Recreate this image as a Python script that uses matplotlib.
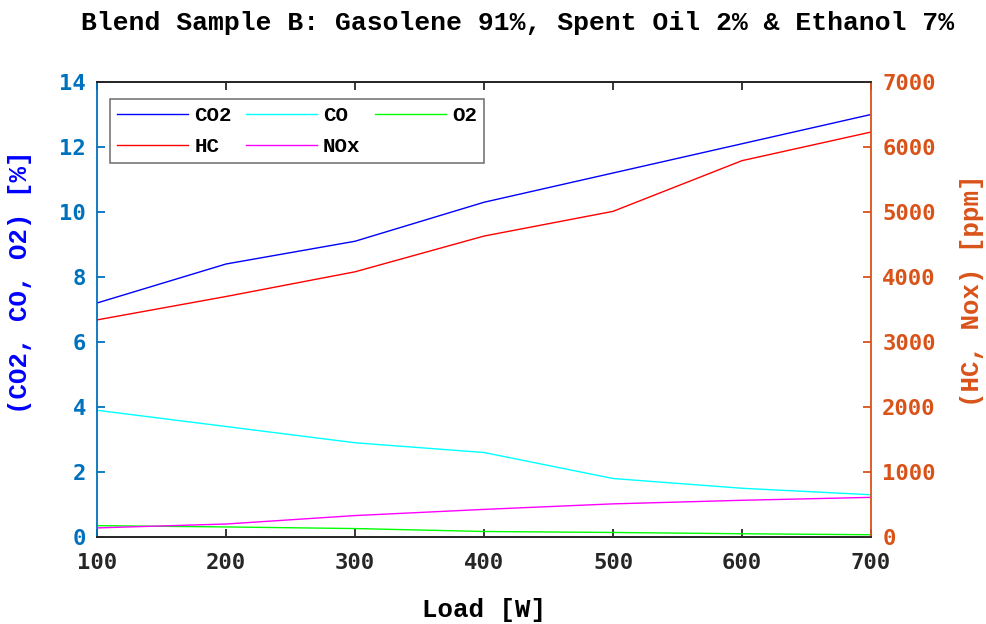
import matplotlib.pyplot as plt

# Emission readings against engine load
load = [100, 200, 300, 400, 500, 600, 700]
co2 = [7.2, 8.4, 9.1, 10.3, 11.2, 12.1, 13.0]
co = [3.9, 3.4, 2.9, 2.6, 1.8, 1.5, 1.3]
o2 = [0.35, 0.31, 0.26, 0.17, 0.14, 0.10, 0.07]
hc = [3340, 3700, 4080, 4630, 5010, 5790, 6230]
nox = [140, 200, 330, 425, 510, 565, 610]

left_col = '#0072BD'
right_col = '#D95319'
edge_col = '#262626'
label_font = 'Liberation Mono'
tick_font = 'DejaVu Sans Mono'

fig = plt.figure(figsize=(9.87, 6.24), dpi=100)
ax = fig.add_axes([0.0983, 0.1394, 0.7842, 0.7292])
ax2 = ax.twinx()

l1, = ax.plot(load, co2, color='#0000FF', lw=1, label='CO2')
l2, = ax.plot(load, co, color='#00FFFF', lw=1, label='CO')
l3, = ax.plot(load, o2, color='#00FF00', lw=1, label='O2')
l4, = ax2.plot(load, hc, color='#FF0000', lw=1, label='HC')
l5, = ax2.plot(load, nox, color='#FF00FF', lw=1, label='NOx')

ax.set_xlim(100, 700)
ax.set_ylim(0, 14)
ax2.set_ylim(0, 7000)
ax.set_xticks(range(100, 701, 100))
ax.set_yticks(range(0, 15, 2))
ax2.set_yticks(range(0, 7001, 1000))

# spines: blue left, orange right, dark top/bottom
for a in (ax, ax2):
    for s in a.spines.values():
        s.set_linewidth(1.3)
    a.spines['top'].set_color(edge_col)
    a.spines['bottom'].set_color(edge_col)
ax.spines['left'].set_color(left_col)
ax.spines['right'].set_visible(False)
ax2.spines['left'].set_visible(False)
ax2.spines['right'].set_color(right_col)

ax.tick_params(axis='x', direction='in', top=True, length=6, width=1.3,
               colors=edge_col, pad=11.5)
ax.tick_params(axis='y', direction='in', length=6, width=1.3,
               colors=left_col, pad=8)
ax2.tick_params(axis='y', direction='in', length=6, width=1.3,
                colors=right_col, pad=8)
for a in (ax, ax2):
    for t in a.get_xticklabels() + a.get_yticklabels():
        t.set_fontfamily(tick_font)
        t.set_fontsize(16)
        t.set_fontweight('bold')

ax.set_xlabel('Load [W]', fontfamily=label_font, fontweight='bold',
              fontsize=18.5, color='black', labelpad=18)
ax.set_ylabel('(CO2, CO, O2) [%]', fontfamily=label_font, fontweight='bold',
              fontsize=18.5, color='#0000FF', va='center')
ax.yaxis.set_label_coords(-0.0995, 0.56)
ax2.set_ylabel('(HC, Nox) [ppm]', fontfamily=label_font, fontweight='bold',
               fontsize=18.5, color=right_col, va='center')
ax2.yaxis.set_label_coords(1.13, 0.541)
fig.text(0.524, 0.963, 'Blend Sample B: Gasolene 91%, Spent Oil 2% & Ethanol 7%',
         ha='center', va='center', fontfamily=label_font, fontweight='bold',
         fontsize=19)

# column-major fill, so order gives rows CO2 CO O2 / HC NOx
leg = ax2.legend(handles=[l1, l4, l2, l5, l3], ncol=3, loc='upper left',
                 bbox_to_anchor=(0.0168, 0.8626, 0.4832, 0.1), mode='expand',
                 borderaxespad=0,
                 prop={'family': label_font, 'weight': 'bold', 'size': 15},
                 handlelength=3.4, handletextpad=0.3, columnspacing=0.5,
                 labelspacing=0.58, fancybox=False, framealpha=1,
                 edgecolor='#777777', borderpad=0.34)
leg.get_frame().set_linewidth(1.2)

fig.savefig('out.png', dpi=100)
